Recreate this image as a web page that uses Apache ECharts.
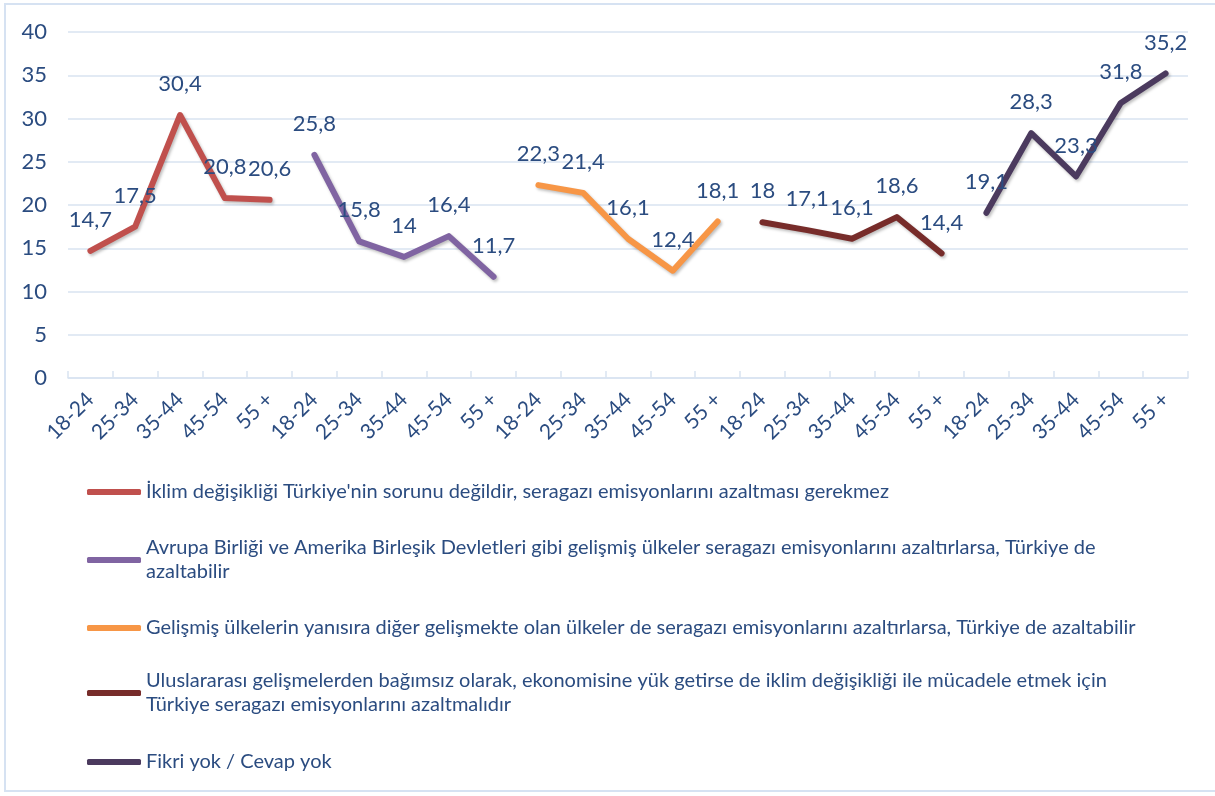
<!DOCTYPE html>
<html><head><meta charset="utf-8">
<script src="https://cdn.jsdelivr.net/npm/echarts@6/dist/echarts.min.js"></script>
<style>html,body{margin:0;padding:0;background:#fff}#c{width:1215px;height:796px}</style>
</head><body><div id="c"></div>
<script>
// ---- data ----
const ageBands = ['18-24', '25-34', '35-44', '45-54', '55 +'];
const seriesNames = [
  "İklim değişikliği Türkiye'nin sorunu değildir, seragazı emisyonlarını azaltması gerekmez",
  "Avrupa Birliği ve Amerika Birleşik Devletleri gibi gelişmiş ülkeler seragazı emisyonlarını azaltırlarsa, Türkiye de azaltabilir",
  "Gelişmiş ülkelerin yanısıra diğer gelişmekte olan ülkeler de seragazı emisyonlarını azaltırlarsa, Türkiye de azaltabilir",
  "Uluslararası gelişmelerden bağımsız olarak, ekonomisine yük getirse de iklim değişikliği ile mücadele etmek için Türkiye seragazı emisyonlarını azaltmalıdır",
  "Fikri yok / Cevap yok"
];
const legendLabels = [
  "İklim değişikliği Türkiye'nin sorunu değildir, seragazı emisyonlarını azaltması gerekmez",
  "Avrupa Birliği ve Amerika Birleşik Devletleri gibi gelişmiş ülkeler seragazı emisyonlarını azaltırlarsa, Türkiye de\nazaltabilir",
  "Gelişmiş ülkelerin yanısıra diğer gelişmekte olan ülkeler de seragazı emisyonlarını azaltırlarsa, Türkiye de azaltabilir",
  "Uluslararası gelişmelerden bağımsız olarak, ekonomisine yük getirse de iklim değişikliği ile mücadele etmek için\nTürkiye seragazı emisyonlarını azaltmalıdır",
  "Fikri yok / Cevap yok"
];
const sorunDegil   = [14.7, 17.5, 30.4, 20.8, 20.6];
const gelismisAzal = [25.8, 15.8, 14.0, 16.4, 11.7];
const digerAzal    = [22.3, 21.4, 16.1, 12.4, 18.1];
const bagimsiz     = [18.0, 17.1, 16.1, 18.6, 14.4];
const fikriYok     = [19.1, 28.3, 23.3, 31.8, 35.2];
const yTicks = { min: 0, max: 40, interval: 5 };

// ---- styling ----
const colors = ['#C0504D', '#8064A2', '#F79646', '#772C2A', '#4B3A5E'];
const textColor = '#2B4C80';
const gridColor = '#D9E3F1';
const FONT = 'Lato';

const groups = [sorunDegil, gelismisAzal, digerAzal, bagimsiz, fikriYok];
const categories = [];
groups.forEach(() => ageBands.forEach(a => categories.push(a)));

const series = groups.map((vals, gi) => {
  const data = new Array(categories.length).fill(null);
  vals.forEach((v, i) => { data[gi * ageBands.length + i] = v; });
  return {
    name: seriesNames[gi],
    type: 'line',
    data: data,
    symbol: 'circle',
    symbolSize: 2,
    showSymbol: true,
    showAllSymbol: true,
    connectNulls: false,
    lineStyle: {
      color: colors[gi], width: 6, cap: 'round', join: 'round',
      shadowColor: 'rgba(0,0,0,0.25)', shadowBlur: 3, shadowOffsetX: 1.5, shadowOffsetY: 2
    },
    itemStyle: { color: colors[gi], borderWidth: 0 },
    label: {
      show: true, position: 'top', distance: 19,
      color: textColor, fontFamily: FONT, fontSize: 22,
      formatter: p => String(p.value).replace('.', ',')
    },
    labelLayout: { hideOverlap: false }
  };
});

// legend layout: first-line centers
const legendCenters = [492, 560, 628, 693, 762];
const LH = 24;
const legends = seriesNames.map((n, i) => {
  const twoLine = legendLabels[i].indexOf('\n') >= 0;
  return {
    orient: 'vertical', left: 87, top: legendCenters[i] - (twoLine ? LH * 1.5 : LH / 2),
    padding: 0, itemWidth: 54, itemHeight: 6, itemGap: 0,
    icon: 'roundRect',
    selectedMode: false,
    formatter: () => legendLabels[i],
    data: [{
      name: n,
      textStyle: twoLine ? { padding: [LH, 0, 0, 0] } : {}
    }],
    textStyle: { color: textColor, fontFamily: FONT, fontSize: 20, lineHeight: LH }
  };
});

const chart = echarts.init(document.getElementById('c'), null, { renderer: 'canvas' });
chart.setOption({
  animation: false,
  backgroundColor: '#fff',
  color: colors,
  grid: { left: 68, right: 27, top: 32, bottom: 418 },
  graphic: [{
    type: 'rect', silent: true,
    shape: { x: 5, y: 4, width: 1230, height: 787 },
    style: { fill: 'none', stroke: '#D6E2F2', lineWidth: 2 }
  }],
  xAxis: {
    type: 'category', data: categories, boundaryGap: true,
    axisLine: { lineStyle: { color: gridColor, width: 1.5 } },
    axisTick: { show: true, inside: true, length: 7, interval: 0, lineStyle: { color: gridColor, width: 1.5 } },
    axisLabel: { interval: 0, rotate: 45, margin: 18, color: textColor, fontFamily: FONT, fontSize: 21 },
    splitLine: { show: false }
  },
  yAxis: {
    type: 'value', min: yTicks.min, max: yTicks.max, interval: yTicks.interval,
    axisLine: { show: false }, axisTick: { show: false },
    axisLabel: { margin: 21, color: textColor, fontFamily: FONT, fontSize: 22 },
    splitLine: { lineStyle: { color: gridColor, width: 1.5 } }
  },
  legend: legends,
  series: series
});
</script></body></html>
